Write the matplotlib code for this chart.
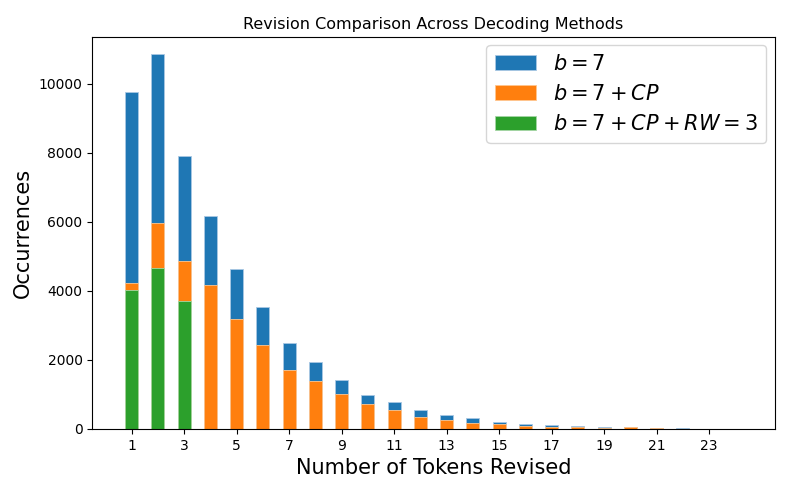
import numpy as np
import matplotlib
matplotlib.use('Agg')
import matplotlib.pyplot as plt

# number of tokens revised
tokens = np.arange(1, 25)

# occurrences for each decoding method
beam7 = [9770, 10870, 7910, 6170, 4645, 3545, 2486, 1936, 1407, 983,
         785, 539, 414, 318, 202, 145, 106, 87, 58, 58, 29, 12, 6, 0]
beam7_cp = [4220, 5973, 4875, 4171, 3179, 2428, 1715, 1378, 1021, 723,
            554, 356, 260, 183, 145, 87, 67, 48, 39, 48, 20, 8, 4, 0]
beam7_cp_rw3 = [4027, 4663, 3709] + [0] * 21

labels = [r'$b = 7$', r'$b = 7 + CP$', r'$b = 7 + CP + RW = 3$']

fig = plt.figure(figsize=(7.89, 4.93), dpi=100)
ax = fig.add_axes([0.117, 0.130, 0.865, 0.795])

ax.bar(tokens, beam7, width=0.5, color='tab:blue', edgecolor='#a9c8e3',
       linewidth=0.6, label=labels[0])
ax.bar(tokens, beam7_cp, width=0.5, color='tab:orange', edgecolor='#ffc68f',
       linewidth=0.6, label=labels[1])
ax.bar(tokens[:3], beam7_cp_rw3[:3], width=0.5, color='tab:green',
       edgecolor='#a5d6a5', linewidth=0.6, label=labels[2])

ax.set_xticks(np.arange(1, 24, 2))
ax.set_xlim(-0.5, 25.5)
ax.set_ylim(0, 11360)
ax.set_yticks(np.arange(0, 10001, 2000))
ax.tick_params(labelsize=10)

ax.set_title('Revision Comparison Across Decoding Methods', fontsize=11.5)
ax.set_xlabel('Number of Tokens Revised', fontsize=15)
ax.set_ylabel('Occurrences', fontsize=15)
ax.legend(fontsize=15, loc='upper right', borderaxespad=0.4)

fig.savefig('out.png', dpi=100)
